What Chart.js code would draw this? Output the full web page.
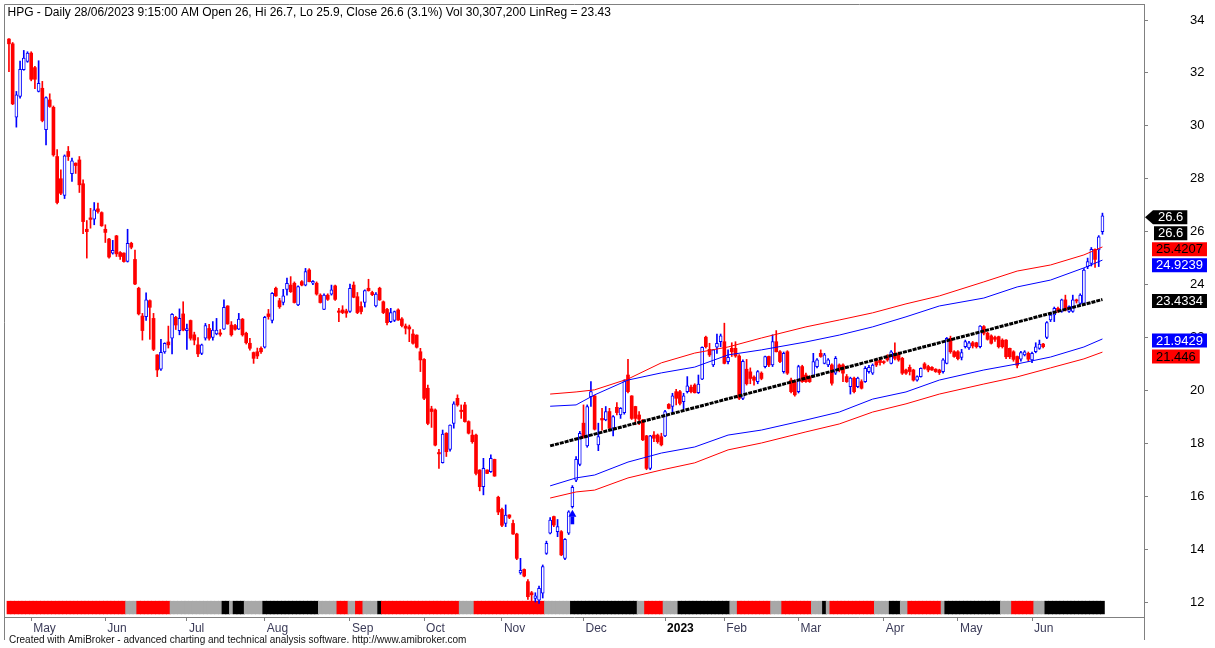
<!DOCTYPE html>
<html><head><meta charset="utf-8">
<script src="https://cdn.jsdelivr.net/npm/chart.js@4.4.0/dist/chart.umd.min.js"></script>
<style>html,body{margin:0;padding:0;background:#fff;}canvas{display:block;}</style>
</head><body>
<canvas id="c" width="1215" height="648"></canvas>
<script>
// ---------------- DATA ----------------
const titleText = "HPG - Daily 28/06/2023 9:15:00 AM Open 26, Hi 26.7, Lo 25.9, Close 26.6 (3.1%) Vol 30,307,200 LinReg = 23.43";
const footerText = "Created with AmiBroker - advanced charting and technical analysis software. http://www.amibroker.com";

const opens = [
33.28,33.10,30.33,31.11,32.12,32.43,32.75,32.20,31.30,31.42,
29.85,30.98,30.70,28.84,28.00,27.37,29.03,28.19,28.59,28.71,
27.81,26.09,26.52,26.47,26.86,26.72,26.09,25.72,25.19,25.84,
25.21,25.19,24.87,25.56,24.95,23.86,22.81,22.79,23.39,22.72,
21.34,20.80,21.45,21.83,21.97,22.76,22.26,22.89,22.26,22.64,
22.10,21.72,21.40,21.97,22.34,22.00,22.13,22.17,22.31,23.19,
22.47,22.45,22.31,22.69,22.16,21.78,21.43,21.46,21.59,21.63,
22.89,22.64,23.86,23.39,23.32,23.82,23.98,24.05,23.23,24.11,
23.98,24.55,24.05,24.05,23.60,23.06,23.60,23.64,23.95,23.00,
23.04,23.00,22.98,23.98,23.54,23.17,23.32,23.86,23.70,23.19,
23.86,23.35,23.06,22.60,22.64,23.04,22.70,22.43,22.40,22.13,
22.09,21.46,21.17,20.08,19.30,19.26,17.65,17.27,18.38,17.77,
18.75,19.70,19.25,19.45,18.82,18.31,18.31,16.99,16.36,16.99,
16.93,17.39,15.96,15.50,14.97,15.29,14.97,14.57,13.10,13.23,
12.77,12.35,12.14,12.07,12.33,13.84,14.60,15.23,14.66,14.66,
13.65,14.60,15.60,16.61,17.20,18.76,17.90,19.76,19.79,17.94,
18.94,18.88,19.20,18.57,19.36,19.07,19.16,20.58,19.79,19.39,
19.07,18.88,18.28,17.05,18.31,18.31,18.25,18.28,19.47,19.39,
19.95,19.95,19.57,19.95,20.12,20.20,19.91,20.42,22.01,21.55,
20.96,21.63,21.84,21.84,21.08,21.59,21.59,21.30,19.70,20.80,
20.70,20.50,20.33,20.65,20.90,21.28,20.96,21.84,21.46,20.71,
21.46,20.39,20.33,19.95,20.90,20.58,20.52,20.52,20.90,21.40,
21.02,20.96,20.96,20.65,20.96,20.96,20.52,20.14,20.46,20.14,
20.33,20.33,20.71,20.65,21.09,21.15,21.09,21.28,21.02,21.40,
21.40,21.21,20.77,20.87,20.77,20.39,20.52,21.00,20.90,20.87,
20.80,20.77,20.71,21.02,21.97,21.46,21.46,21.25,21.65,21.60,
21.80,21.80,21.65,22.41,22.16,22.06,22.00,22.03,21.90,21.90,
21.59,21.46,21.28,21.18,21.34,21.40,21.15,21.46,21.59,21.75,
22.00,22.66,22.85,23.10,22.98,23.42,22.98,22.98,23.42,23.29,
23.29,24.68,24.80,25.33,25.31,26.00];

const highs = [
33.30,33.15,31.30,32.45,32.85,32.80,32.80,32.25,32.46,31.68,
31.10,31.21,30.75,29.10,28.34,28.90,29.22,28.78,28.60,28.84,
27.96,26.42,26.88,27.10,27.08,26.75,26.26,25.75,25.67,25.86,
25.25,25.20,26.09,25.60,25.30,23.90,22.91,23.69,23.42,22.91,
21.35,21.93,21.80,22.43,22.90,22.80,23.08,23.35,22.51,22.66,
22.20,22.00,21.75,22.53,22.50,22.60,22.72,22.30,23.42,23.20,
22.60,22.50,22.91,22.72,22.20,21.97,21.45,21.60,21.65,22.80,
23.06,23.70,23.90,23.48,23.82,24.24,24.30,24.10,23.95,24.15,
24.61,24.60,24.15,24.10,23.65,23.65,23.65,23.98,23.98,23.10,
23.20,23.07,24.02,24.10,23.70,23.35,23.80,24.20,23.75,23.70,
23.90,23.38,23.10,23.10,23.00,23.08,22.75,22.51,22.47,22.30,
22.10,21.59,21.20,20.20,19.40,19.30,17.77,18.50,18.40,18.70,
19.57,19.83,19.45,19.55,18.85,18.50,18.35,17.00,17.43,17.00,
17.56,17.40,16.00,15.55,15.67,15.30,15.10,14.60,13.65,13.25,
12.85,12.40,12.35,12.60,13.40,14.30,15.19,15.25,15.12,14.70,
14.40,15.45,16.40,17.50,18.45,19.45,19.45,20.33,19.82,18.76,
19.32,19.39,19.32,19.05,19.54,19.35,20.40,21.17,19.80,19.40,
19.20,18.90,18.30,18.30,18.44,18.35,18.38,19.25,19.50,19.89,
20.04,20.00,19.89,20.52,20.20,20.25,20.58,21.65,22.05,21.78,
21.55,22.13,22.13,22.54,21.53,21.80,21.84,21.35,21.15,21.17,
20.85,20.55,20.75,20.70,21.30,21.30,22.10,22.26,21.50,21.45,
21.50,20.46,20.40,20.95,20.95,20.65,20.55,21.40,21.20,21.53,
21.40,21.20,21.00,21.28,21.00,21.00,20.60,20.50,20.50,20.50,
20.40,20.90,20.95,21.00,21.20,21.20,21.12,21.35,21.50,21.80,
21.45,21.25,20.80,20.96,20.80,20.55,20.85,21.05,20.95,20.90,
20.82,20.80,21.20,22.00,22.05,21.50,21.50,21.55,21.90,21.85,
21.85,21.82,22.45,22.45,22.20,22.10,22.05,22.05,21.95,21.92,
21.60,21.50,21.30,21.48,21.50,21.45,21.45,21.80,21.90,21.78,
22.60,22.95,23.15,23.15,23.45,23.60,23.20,23.60,23.45,23.65,
24.60,25.00,25.40,25.35,25.85,26.70];

const lows = [
32.05,30.80,29.95,31.05,32.10,32.40,31.70,31.40,31.28,30.15,
29.28,30.70,28.85,27.05,27.40,27.25,28.69,27.90,28.20,27.48,
25.92,25.00,26.13,26.26,26.70,26.20,25.59,25.00,25.15,25.06,
24.95,24.85,24.85,25.35,24.00,22.85,21.90,22.64,21.93,21.50,
20.52,20.75,21.40,21.60,21.38,22.30,22.10,22.25,21.55,21.90,
21.72,21.27,21.35,21.90,21.90,21.90,22.10,22.05,22.30,22.50,
22.05,22.28,22.30,22.05,21.75,21.52,21.02,21.20,21.40,21.60,
22.69,22.55,23.55,23.10,23.23,23.60,23.70,23.30,23.20,23.95,
23.95,24.10,24.00,23.60,23.30,23.05,23.40,23.60,23.40,22.60,
22.90,22.76,22.95,23.50,22.90,22.89,23.15,23.75,23.58,23.15,
23.40,22.90,22.47,22.56,22.60,22.64,22.40,22.13,21.84,21.75,
21.60,20.71,19.65,18.70,18.60,17.90,17.05,17.25,17.50,17.70,
18.57,19.40,18.94,18.80,18.35,18.00,16.80,16.20,16.05,16.85,
16.90,16.75,15.30,14.85,14.85,15.15,14.55,13.60,13.05,12.95,
12.10,12.00,12.00,11.95,12.15,13.80,14.57,14.85,14.47,13.75,
13.60,14.55,15.55,16.55,17.15,18.20,17.85,19.39,18.50,17.72,
18.50,18.85,18.55,18.28,19.07,18.94,19.10,19.90,18.90,18.70,
18.70,18.10,17.00,17.00,18.06,18.00,17.90,18.25,19.30,19.16,
19.45,19.45,19.29,19.90,19.90,19.90,19.88,20.40,21.60,21.28,
20.90,21.40,21.65,21.00,21.00,21.28,21.25,19.65,19.65,20.20,
20.25,20.20,20.25,20.40,20.85,20.90,20.90,21.45,21.05,20.65,
20.60,19.90,19.78,19.90,20.30,20.30,20.30,20.50,20.85,21.25,
21.00,20.90,20.20,20.60,20.70,20.33,20.30,19.86,19.90,20.10,
20.05,20.30,20.65,20.60,20.90,20.95,21.00,21.10,21.00,21.15,
21.10,20.60,20.60,20.58,20.35,20.35,20.50,20.80,20.70,20.75,
20.68,20.60,20.65,21.00,21.40,21.25,21.15,21.15,21.60,21.55,
21.60,21.60,21.60,22.10,21.90,21.75,21.85,21.60,21.60,21.20,
21.20,21.10,20.85,21.10,21.30,21.10,21.05,21.42,21.55,21.60,
21.95,22.60,22.60,22.95,22.95,23.00,22.95,22.95,23.30,23.25,
23.25,24.60,24.70,24.65,24.68,25.90];

const closes = [
33.10,30.83,31.17,32.14,32.56,32.75,31.76,31.76,31.61,30.20,
31.07,30.73,28.90,27.10,27.45,28.87,28.84,28.68,28.50,27.77,
26.38,26.00,26.46,26.82,26.76,26.22,25.97,25.04,25.29,25.16,
25.06,24.87,25.56,25.41,24.02,22.89,22.26,23.42,23.14,21.55,
20.77,21.44,21.78,21.72,22.87,22.47,22.72,22.28,22.34,21.97,
21.90,21.38,21.72,22.45,21.97,22.28,22.28,22.12,23.14,22.51,
22.10,22.31,22.69,22.10,21.80,21.59,21.21,21.30,21.46,22.76,
22.79,23.67,23.57,23.16,23.57,24.05,23.73,23.32,23.92,23.98,
24.49,24.11,24.12,23.64,23.32,23.60,23.44,23.80,23.44,22.95,
22.94,22.92,23.86,23.52,22.94,22.98,23.77,23.77,23.62,23.64,
23.42,22.94,22.56,22.94,22.98,22.66,22.45,22.35,22.32,21.78,
21.63,21.15,19.70,18.75,19.20,17.93,17.60,18.35,17.68,18.69,
19.49,19.45,19.20,18.82,18.38,18.06,16.86,16.36,17.05,16.86,
17.43,16.76,15.40,14.90,15.29,15.20,14.57,13.65,13.20,12.98,
12.20,12.27,12.23,12.52,13.34,14.22,15.10,14.91,14.85,13.78,
14.37,15.41,16.33,17.39,18.38,18.25,19.39,19.95,18.53,18.25,
18.88,19.20,18.57,19.01,19.16,19.32,20.37,19.95,18.94,18.94,
18.91,18.13,17.05,18.28,18.19,18.06,17.94,19.20,19.32,19.79,
19.70,19.51,19.79,20.17,19.95,19.91,20.24,21.63,21.65,21.34,
21.53,21.78,22.06,21.02,21.25,21.46,21.30,19.70,21.10,20.25,
20.45,20.38,20.71,20.45,21.28,20.96,21.84,21.46,21.09,21.40,
20.65,19.95,19.83,20.90,20.33,20.33,20.33,21.09,21.15,21.28,
21.34,21.15,20.27,21.21,20.77,20.65,20.33,20.46,19.95,20.46,
20.08,20.83,20.87,20.96,20.96,21.05,21.05,21.15,21.46,21.21,
21.15,20.65,20.65,20.71,20.39,20.52,20.83,20.83,20.77,20.77,
20.71,20.67,21.15,21.97,21.46,21.28,21.20,21.43,21.84,21.80,
21.68,21.65,22.43,22.16,21.93,21.78,21.93,21.65,21.65,21.27,
21.27,21.17,20.95,21.43,21.46,21.18,21.40,21.65,21.75,21.65,
22.56,22.85,23.10,23.00,23.42,23.04,23.17,23.42,23.38,23.60,
24.55,24.87,25.33,24.95,25.80,26.60];

// Linear regression channel (last 150 bars)
const linRegIdx = [146, 295];
const linRegVal = [17.90, 23.4334];
const bandIdx   = [146,153,158,167,176,185,194,203,215,224,233,242,251,263,272,281,290,295];
const upperRed  = [19.86,19.94,20.02,20.43,21.04,21.41,21.64,21.98,22.40,22.66,22.93,23.27,23.57,24.10,24.51,24.74,25.12,25.4207];
const upperBlue = [19.40,19.45,19.83,20.39,20.66,20.88,21.34,21.53,21.83,22.09,22.40,22.78,23.19,23.49,23.91,24.17,24.63,24.9239];
const lowerBlue = [16.39,16.69,16.80,17.29,17.63,17.86,18.31,18.50,18.88,19.18,19.67,19.94,20.39,20.77,21.00,21.26,21.64,21.9429];
const lowerRed  = [15.93,16.16,16.23,16.69,16.99,17.26,17.75,18.01,18.43,18.73,19.18,19.49,19.86,20.24,20.51,20.85,21.19,21.446];

// Buy arrow
const arrowIdx = [152];

// Bottom ribbon (run-length: colour code, number of bars)
const ribbonCodes   = ['R','G','R','G','B','G','B','G','B','G','R','G','R','G','B','R','G','R','G','B','G','R','G','B','G','R','G','R','G','B','G','R','G','B','G','R','G','B','G','R','G','B'];
const ribbonLengths = [32,3,9,14,2,1,3,5,15,5,3,2,2,4,1,21,4,19,7,18,2,5,4,14,2,9,3,8,3,1,1,12,4,3,2,9,1,15,3,6,3,16];

// Axis ticks
const monthIdx    = [6,26,48,69,92,112,133,155,177,193,213,236,256,276];
const monthLabels = ['May','Jun','Jul','Aug','Sep','Oct','Nov','Dec','2023','Feb','Mar','Apr','May','Jun'];
const yTickValues = [12,14,16,18,20,22,24,26,28,30,32,34];

// Right-hand value labels
const rightLabelValues = [26.6, 26.6, 25.4207, 24.9239, 23.4334, 21.9429, 21.446];
const rightLabelTexts  = ['26.6','26.6','25.4207','24.9239','23.4334','21.9429','21.446'];

// ---------------- CHART ----------------
const FONT = "'Liberation Sans', Arial, sans-serif";
Chart.defaults.font.family = FONT;
const RED = '#ff0000', BLUE = '#0000ff';
const up = closes.map((c, i) => c >= opens[i]);

const ribbonColorMap = {R: '#ff0000', G: '#a8a8a8', B: '#000000'};
const ribbonBarColors = [];
ribbonCodes.forEach((c, k) => { for (let j = 0; j < ribbonLengths[k]; j++) ribbonBarColors.push(ribbonColorMap[c]); });

const rightLabelStyle = [
  {bg: '#000', fg: '#fff', x0: 1154, arrow: true},
  {bg: '#000', fg: '#fff', x0: 1154, arrow: false},
  {bg: RED, fg: '#000', x0: 1152, arrow: false},
  {bg: BLUE, fg: '#fff', x0: 1152, arrow: false},
  {bg: '#000', fg: '#fff', x0: 1152, arrow: false},
  {bg: BLUE, fg: '#fff', x0: 1152, arrow: false},
  {bg: RED, fg: '#000', x0: 1152, arrow: false}
];

const overlay = {
  id: 'overlay',
  afterDraw(chart) {
    const ctx = chart.ctx, ys = chart.scales.y;
    ctx.save();
    ctx.strokeStyle = '#808080'; ctx.lineWidth = 1;
    ctx.beginPath();
    ctx.moveTo(4.5, 640); ctx.lineTo(4.5, 4.5); ctx.lineTo(1144.5, 4.5); ctx.lineTo(1144.5, 640);
    ctx.stroke();
    ctx.fillStyle = '#000'; ctx.font = '12px ' + FONT; ctx.textBaseline = 'middle'; ctx.textAlign = 'left';
    ctx.fillText(titleText, 7.5, 13);
    ctx.font = '10px ' + FONT; ctx.fillStyle = '#111';
    ctx.fillText(footerText, 9, 640.5);
    ctx.font = '13px ' + FONT;
    let prev = -1e9;
    rightLabelValues.forEach((v, k) => {
      const st = rightLabelStyle[k];
      const cy = Math.max(ys.getPixelForValue(v) + 1.5, prev + 16);
      prev = cy;
      const tw = ctx.measureText(rightLabelTexts[k]).width;
      const w = tw + 8, h = 14;
      ctx.fillStyle = st.bg;
      ctx.beginPath();
      if (st.arrow) { ctx.moveTo(1145, cy); ctx.lineTo(st.x0 - 1, cy - h / 2); }
      else { ctx.moveTo(st.x0, cy - h / 2); }
      ctx.lineTo(st.x0 + w, cy - h / 2); ctx.lineTo(st.x0 + w, cy + h / 2);
      ctx.lineTo(st.arrow ? st.x0 - 1 : st.x0, cy + h / 2);
      ctx.closePath(); ctx.fill();
      ctx.fillStyle = st.fg; ctx.textAlign = 'left'; ctx.textBaseline = 'middle';
      ctx.fillText(rightLabelTexts[k], st.x0 + 4, cy + 0.5);
    });
    ctx.restore();
  }
};

new Chart(document.getElementById('c'), {
  type: 'bar',
  data: {
    datasets: [
      { type: 'line', label: 'arrow', order: 0, showLine: false,
        data: arrowIdx.map(i => ({x: i, y: 15.31})),
        pointStyle: 'triangle', pointRadius: 4.6, pointBackgroundColor: BLUE, pointBorderColor: BLUE, pointBorderWidth: 0 },
      { type: 'bar', label: 'arrowStem', order: 0, grouped: false, barThickness: 3,
        data: arrowIdx.map(i => ({x: i, y: [14.95, 15.22]})), backgroundColor: BLUE },
      { type: 'line', label: 'linreg', order: 1, data: linRegIdx.map((x, k) => ({x, y: linRegVal[k]})),
        borderColor: '#000', borderWidth: 3, borderDash: [4, 1], pointRadius: 0, tension: 0 },
      { type: 'line', label: 'ub', order: 2, data: bandIdx.map((x, k) => ({x, y: upperBlue[k]})),
        borderColor: BLUE, borderWidth: 1, pointRadius: 0, tension: 0 },
      { type: 'line', label: 'lb', order: 2, data: bandIdx.map((x, k) => ({x, y: lowerBlue[k]})),
        borderColor: BLUE, borderWidth: 1, pointRadius: 0, tension: 0 },
      { type: 'line', label: 'ur', order: 2, data: bandIdx.map((x, k) => ({x, y: upperRed[k]})),
        borderColor: RED, borderWidth: 1, pointRadius: 0, tension: 0 },
      { type: 'line', label: 'lr', order: 2, data: bandIdx.map((x, k) => ({x, y: lowerRed[k]})),
        borderColor: RED, borderWidth: 1, pointRadius: 0, tension: 0 },
      { type: 'bar', label: 'body', order: 3, grouped: false, barThickness: 3,
        data: opens.map((o, i) => ({x: i, y: [o, closes[i]]})),
        backgroundColor: up.map(u => u ? '#ffffff' : RED),
        borderColor: up.map(u => u ? BLUE : RED),
        borderWidth: up.map(u => u ? 1 : 0), borderSkipped: false },
      { type: 'bar', label: 'wick', order: 4, grouped: false, barThickness: 1,
        data: lows.map((l, i) => ({x: i, y: [l, highs[i]]})),
        backgroundColor: up.map(u => u ? BLUE : RED) },
      { type: 'bar', label: 'ribbon', order: 5, grouped: false, barThickness: 4,
        data: ribbonBarColors.map((c, i) => ({x: i, y: [11.55, 12.03]})),
        backgroundColor: ribbonBarColors }
    ]
  },
  options: {
    responsive: false, animation: false, devicePixelRatio: 1,
    layout: {padding: {left: 4, top: 4, right: 0, bottom: 0}, autoPadding: false},
    plugins: {legend: {display: false}, tooltip: {enabled: false}, title: {display: false}},
    scales: {
      x: {
        type: 'linear', min: -1.338, max: 306.21, offset: false,
        grid: {display: true, drawOnChartArea: false, drawTicks: true, tickLength: 4, color: '#808080', offset: false},
        border: {display: true, color: '#808080'},
        afterFit(s) { s.height = 31; s.paddingLeft = 0; s.paddingRight = 0; },
        afterBuildTicks(s) { s.ticks = monthIdx.map(v => ({value: v})); },
        ticks: {
          autoSkip: false, maxRotation: 0, minRotation: 0, align: 'start', labelOffset: 2, padding: 0,
          callback: (v) => monthLabels[monthIdx.indexOf(v)],
          font: (c) => ({size: 12, family: FONT, weight: (c.tick && c.tick.label === '2023') ? 'bold' : 'normal'}),
          color: (c) => (c.tick && c.tick.label === '2023') ? '#000' : '#3b3b58'
        }
      },
      y: {
        type: 'linear', position: 'right', min: 11.433, max: 34.605,
        grid: {display: true, drawOnChartArea: false, drawTicks: true, tickLength: 4, color: '#808080'},
        border: {display: true, color: '#808080'},
        afterFit(s) { s.width = 71; s.paddingTop = 0; s.paddingBottom = 0; },
        afterBuildTicks(s) { s.ticks = yTickValues.map(v => ({value: v})); },
        ticks: {crossAlign: 'near', padding: 42, font: {size: 13, family: FONT}, color: '#000',
          callback: (v) => String(v)}
      }
    }
  },
  plugins: [overlay]
});
</script>
</body></html>
